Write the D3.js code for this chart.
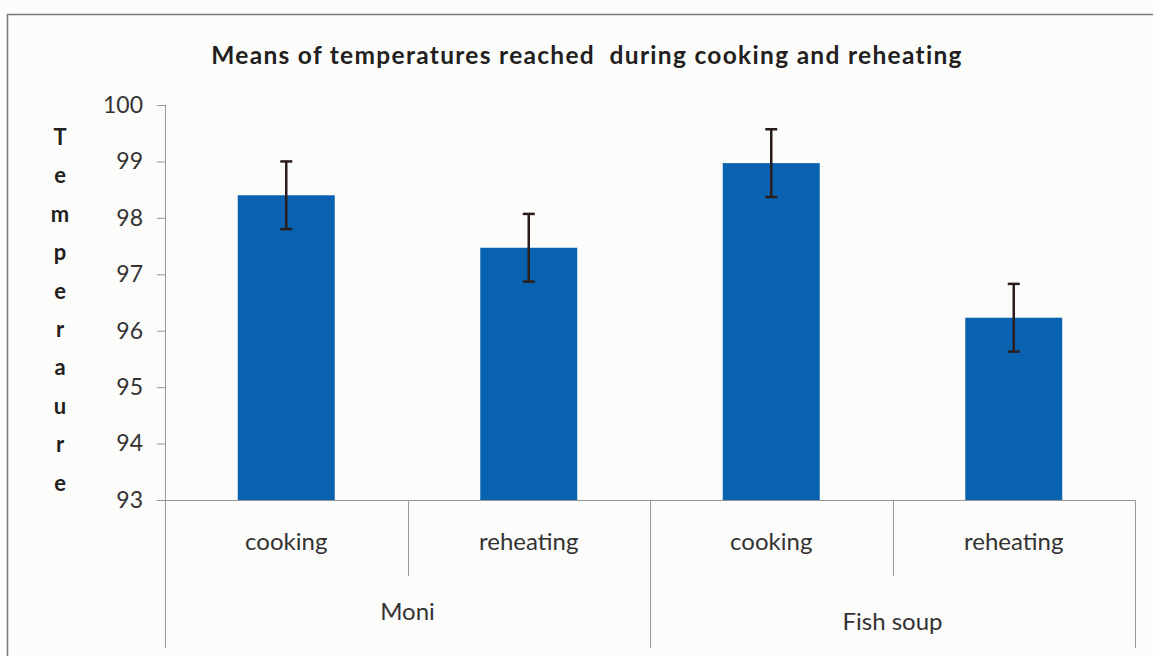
<!DOCTYPE html>
<html>
<head>
<meta charset="utf-8">
<script src="https://cdn.jsdelivr.net/npm/d3@7"></script>
<style>
  body { margin: 0; background: #fcfcfb; }
  svg { display: block; font-family: Lato, "Open Sans", sans-serif; }
</style>
</head>
<body>
<script>
  const groups = ['Moni', 'Fish soup'];
  const stages = ['cooking', 'reheating', 'cooking', 'reheating'];
  const means = [98.4, 97.47, 98.97, 96.23];
  const errors = [0.6, 0.6, 0.6, 0.6];
  const yTicks = [93, 94, 95, 96, 97, 98, 99, 100];
  const title = 'Means of temperatures reached  during cooking and reheating';
  const yLabel = 'Temperaure';

  const width = 1153;
  const height = 656;
  const plotLeft = 165, plotRight = 1135, plotTop = 105, plotBottom = 500;
  const textColor = '#333';

  const svg = d3.select('body').append('svg')
    .attr('width', width)
    .attr('height', height);

  // outer frame (runs off right and bottom edges in the scan)
  svg.append('path')
    .attr('d', `M7.5,${height + 5}V14.5H${width + 5}`)
    .attr('fill', 'none')
    .attr('stroke', '#777')
    .attr('stroke-width', 1.5);

  svg.append('text')
    .attr('x', 587)
    .attr('y', 64)
    .attr('text-anchor', 'middle')
    .attr('font-size', 24.5)
    .attr('font-weight', 'bold')
    .attr('letter-spacing', 1.3)
    .attr('fill', '#231f20')
    .style('white-space', 'pre')
    .text(title);

  const x = d3.scaleBand()
    .domain(d3.range(means.length))
    .range([plotLeft, plotRight])
    .paddingInner(0.6)
    .paddingOuter(0.3);

  const y = d3.scaleLinear()
    .domain([93, 100])
    .range([plotBottom, plotTop]);

  // y axis
  const yAxis = svg.append('g')
    .attr('transform', `translate(${plotLeft},0)`)
    .call(d3.axisLeft(y).tickValues(yTicks).tickSize(8).tickPadding(14).tickFormat(d3.format('d')));
  yAxis.select('.domain').remove();
  yAxis.selectAll('.tick line').attr('stroke', '#999');
  yAxis.selectAll('.tick text')
    .attr('font-size', 23)
    .attr('fill', textColor)
    .attr('font-family', 'Lato, sans-serif');

  const lineColor = '#9a9597';
  // axis frame lines
  svg.append('line')
    .attr('x1', plotLeft + 0.5).attr('x2', plotLeft + 0.5)
    .attr('y1', plotTop).attr('y2', 648)
    .attr('stroke', lineColor);
  svg.append('line')
    .attr('x1', plotLeft).attr('x2', plotRight)
    .attr('y1', plotBottom + 0.5).attr('y2', plotBottom + 0.5)
    .attr('stroke', lineColor);

  // category dividers
  const step = x.step();
  const edges = d3.range(means.length + 1).map(i => plotLeft + i * step);
  svg.selectAll('line.div')
    .data(edges.slice(1))
    .enter().append('line')
    .attr('class', 'div')
    .attr('x1', d => Math.round(d) + 0.5).attr('x2', d => Math.round(d) + 0.5)
    .attr('y1', plotBottom)
    .attr('y2', (d, i) => (i % 2 === 1) ? 648 : 576)
    .attr('stroke', lineColor);

  // bars
  svg.selectAll('rect.bar')
    .data(means)
    .enter().append('rect')
    .attr('class', 'bar')
    .attr('x', (d, i) => x(i))
    .attr('y', d => y(d))
    .attr('width', x.bandwidth())
    .attr('height', d => y(93) - y(d))
    .attr('fill', '#0862b0');

  // error bars
  const err = svg.selectAll('g.err')
    .data(means)
    .enter().append('g')
    .attr('class', 'err')
    .attr('stroke', '#2b1d1d')
    .attr('stroke-width', 2.5);
  err.append('line')
    .attr('x1', (d, i) => x(i) + x.bandwidth() / 2)
    .attr('x2', (d, i) => x(i) + x.bandwidth() / 2)
    .attr('y1', (d, i) => y(d + errors[i]))
    .attr('y2', (d, i) => y(d - errors[i]));
  [1, -1].forEach(s => {
    err.append('line')
      .attr('x1', (d, i) => x(i) + x.bandwidth() / 2 - 6)
      .attr('x2', (d, i) => x(i) + x.bandwidth() / 2 + 6)
      .attr('y1', (d, i) => y(d + s * errors[i]))
      .attr('y2', (d, i) => y(d + s * errors[i]));
  });

  // stage labels
  svg.selectAll('text.stage')
    .data(stages)
    .enter().append('text')
    .attr('class', 'stage')
    .attr('x', (d, i) => x(i) + x.bandwidth() / 2)
    .attr('y', 550)
    .attr('text-anchor', 'middle')
    .attr('font-size', 24)
    .attr('fill', textColor)
    .text(d => d);

  // group labels
  svg.selectAll('text.group')
    .data(groups)
    .enter().append('text')
    .attr('class', 'group')
    .attr('x', (d, i) => plotLeft + (2 * i + 1) * step)
    .attr('y', (d, i) => i === 0 ? 620 : 630)
    .attr('text-anchor', 'middle')
    .attr('font-size', 24)
    .attr('fill', textColor)
    .text(d => d);

  // stacked vertical y label
  svg.append('g')
    .selectAll('text')
    .data(yLabel.split(''))
    .enter().append('text')
    .attr('x', 60)
    .attr('y', (d, i) => 145 + i * 38.4)
    .attr('text-anchor', 'middle')
    .attr('font-size', 22)
    .attr('font-weight', 'bold')
    .attr('fill', '#231f20')
    .text(d => d);
</script>
</body>
</html>
